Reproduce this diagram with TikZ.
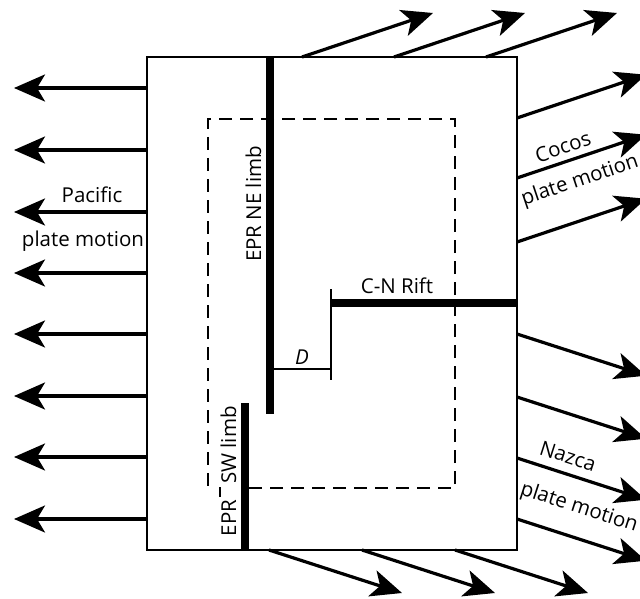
\documentclass[tikz,border=0pt]{standalone}
\usepackage{fontspec}
\setmainfont{Open Sans}
\usetikzlibrary{arrows.meta}
\begin{document}
\begin{tikzpicture}[x=1pt,y=-1pt,
  motion/.style={line width=3.2pt,-{Stealth[length=31pt,width=27pt,inset=8pt]}},
  limb/.style={line width=8.5pt},
  frame/.style={line width=1.8pt},
  guide/.style={line width=2pt,dash pattern=on 13pt off 8pt},
  lbl/.style={font=\fontsize{20.5}{23}\selectfont,inner sep=0pt}]
\useasboundingbox (0,0) rectangle (640,599);
% plate block
\draw[frame] (147,57) rectangle (517,550);
% dashed study area (open at the lower left)
\draw[guide] (249,488) -- (455,488) -- (455,119) -- (208,119) -- (208,486);
\draw[line width=1.8pt] (220,487) -- (220,497);
% spreading ridges
\draw[limb] (270,57) -- (270,414);
\draw[limb] (245,403) -- (245,550);
\draw[limb] (331,303) -- (517,303);
% offset D
\draw[line width=1.3pt] (270,369) -- (331,369);
\draw[line width=1.8pt] (331,289) -- (331,380);
\node[lbl,anchor=base] (d) at (302,364) {\itshape D};
% Pacific plate motion (westward)
\foreach \y in {88,150,212,273,334,396,457,519}
  \draw[motion] (147,\y) -- (14,\y);
% Cocos plate motion (north-east)
\foreach \x in {302,394,486}
  \draw[motion] (\x,57) -- ++(131,-44);
\foreach \y in {118,178,242}
  \draw[motion] (517,\y) -- ++(129,-43.3);
% Nazca plate motion (south-east)
\foreach \x in {269,362,455}
  \draw[motion] (\x,550) -- ++(133,43);
\foreach \y in {334,397,458,519}
  \draw[motion] (517,\y) -- ++(129,41.7);
% labels
\node[lbl,anchor=base] (pac) at (92,202) {Pacific};
\node[lbl,anchor=base] (pacm) at (83,246) {plate motion};
\node[lbl,rotate=90,anchor=base] (ne) at (261,204) {EPR NE limb};
\node[lbl,rotate=90,anchor=base] (swa) at (236,518) {EPR};
\node[lbl,rotate=90,anchor=base] (swb) at (236,445) {SW limb};
\node[lbl,anchor=base] (cn) at (397,293) {C-N Rift};
\node[lbl,rotate=18.6] (coc) at (563,147) {Cocos};
\node[lbl,rotate=18.6] (cocm) at (580,181) {plate motion};
\node[lbl,rotate=-17.9] (naz) at (568,456) {Nazca};
\node[lbl,rotate=-17.9] (nazm) at (579,508) {plate motion};
\end{tikzpicture}
\end{document}
